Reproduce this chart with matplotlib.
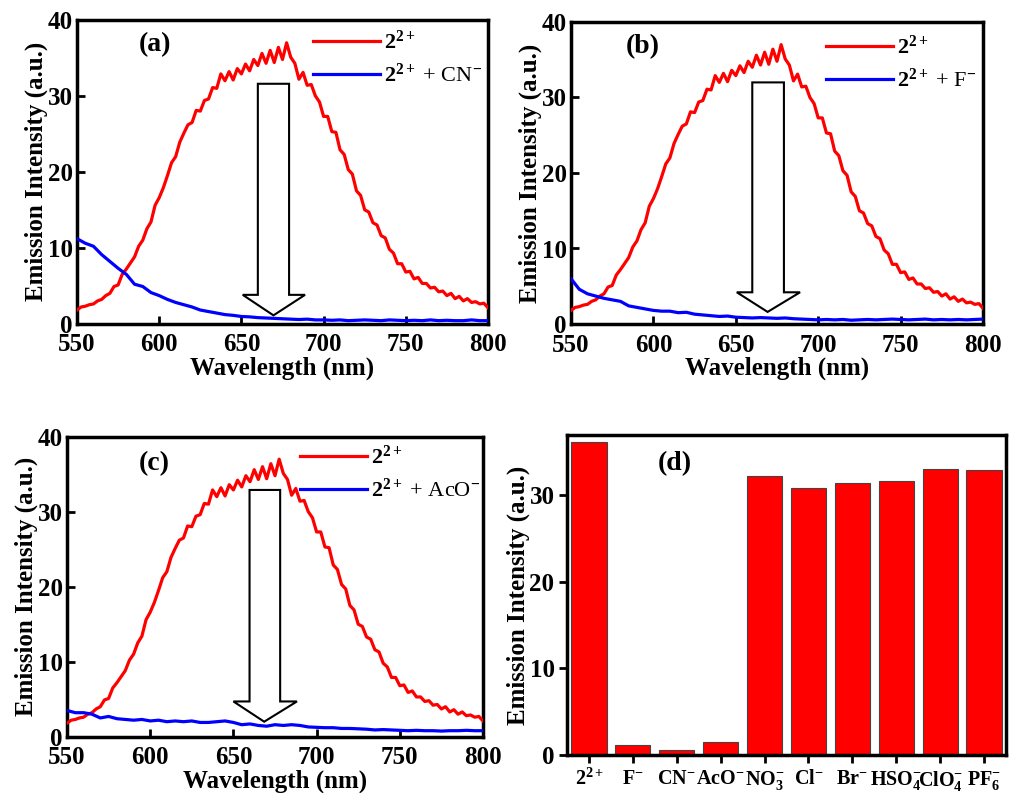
import numpy as np
import matplotlib
matplotlib.use("Agg")
import matplotlib.pyplot as plt
from matplotlib.patches import Polygon

plt.rcParams['font.family'] = ['Liberation Serif', 'DejaVu Serif']
plt.rcParams['font.weight'] = 'bold'
plt.rcParams['mathtext.fontset'] = 'custom'
plt.rcParams['mathtext.rm'] = 'Liberation Serif'
plt.rcParams['mathtext.bf'] = 'Liberation Serif:bold'
plt.rcParams['mathtext.it'] = 'Liberation Serif:italic'

# ---------------- data ----------------
wl_red = np.arange(550, 800.1, 2.5)
red_2 = [1.8, 2.2, 2.3, 2.5, 2.6, 3.0, 3.2, 3.7, 4.0, 4.9,
         5.1, 6.5, 7.2, 8.0, 8.8, 10.2, 11.0, 12.5, 13.4, 15.6,
         16.6, 17.9, 19.5, 21.2, 22.0, 23.9, 25.1, 26.2, 26.5, 28.1,
         28.0, 29.4, 29.6, 31.1, 31.0, 32.9, 32.0, 33.2, 32.1, 33.6,
         32.9, 34.2, 33.3, 34.8, 34.0, 35.6, 34.3, 36.0, 34.4, 36.4,
         34.8, 37.0, 35.1, 34.3, 32.2, 33.1, 31.4, 31.5, 30.0, 29.2,
         27.3, 27.3, 25.3, 25.2, 22.9, 22.3, 20.3, 19.7, 17.5, 16.9,
         15.0, 14.7, 13.3, 13.0, 11.6, 11.3, 9.8, 9.3, 7.9, 7.9,
         6.8, 6.9, 5.9, 6.1, 5.3, 5.3, 4.7, 4.8, 4.2, 4.3,
         3.7, 4.0, 3.3, 3.6, 3.0, 3.3, 2.8, 2.9, 2.6, 2.7, 2.1]

wl_blue = np.arange(550, 800.1, 5)
blue_cn = [11.2, 10.6, 10.2, 9.1, 8.2, 7.3, 6.5, 5.2, 4.9, 4.1,
           3.7, 3.2, 2.8, 2.5, 2.2, 1.8, 1.6, 1.4, 1.2, 1.1,
           0.95, 0.9, 0.8, 0.75, 0.7, 0.65, 0.6, 0.55, 0.6, 0.5,
           0.5, 0.45, 0.5, 0.4, 0.45, 0.5, 0.45, 0.4, 0.5, 0.45,
           0.4, 0.45, 0.4, 0.5, 0.4, 0.45, 0.4, 0.4, 0.5, 0.4, 0.4]
blue_f = [6.0, 4.6, 4.0, 3.7, 3.4, 3.2, 3.0, 2.4, 2.2, 2.0,
          1.8, 1.7, 1.7, 1.5, 1.55, 1.3, 1.2, 1.1, 1.0, 1.05,
          0.9, 0.85, 0.8, 0.85, 0.8, 0.75, 0.8, 0.7, 0.65, 0.6,
          0.55, 0.6, 0.55, 0.6, 0.5, 0.55, 0.6, 0.55, 0.6, 0.65,
          0.6, 0.55, 0.6, 0.65, 0.55, 0.6, 0.55, 0.6, 0.55, 0.6, 0.65]
blue_aco = [3.5, 3.2, 3.2, 3.0, 2.5, 2.7, 2.4, 2.3, 2.2, 2.3,
            2.1, 2.2, 2.0, 2.1, 2.0, 2.1, 1.9, 1.9, 2.0, 2.1,
            1.9, 1.6, 1.7, 1.5, 1.4, 1.6, 1.5, 1.6, 1.5, 1.3,
            1.25, 1.2, 1.2, 1.1, 1.1, 1.05, 1.0, 0.9, 0.95, 0.9,
            0.85, 0.8, 0.85, 0.8, 0.8, 0.75, 0.8, 0.8, 0.85, 0.8, 0.8]

anions = [r'$\mathbf{2^{2+}}$', r'$\mathbf{F^{-}}$', r'$\mathbf{CN^{-}}$',
          r'$\mathbf{AcO^{-}}$', r'$\mathbf{NO_3^{-}}$', r'$\mathbf{Cl^{-}}$',
          r'$\mathbf{Br^{-}}$', r'$\mathbf{HSO_4^{-}}$', r'$\mathbf{ClO_4^{-}}$',
          r'$\mathbf{PF_6^{-}}$']
bar_vals = [36.1, 1.1, 0.6, 1.55, 32.2, 30.8, 31.4, 31.6, 33.0, 32.9]

# arrow annotation geometry (nm / intensity)
arrow_tip_x = [669.5, 669.3, 668.5]
arrow_shaft = [(660.0, 679.0), (660.0, 679.2), (659.7, 678.1)]
arrow_head = [(650.8, 688.7), (650.6, 689.0), (650.0, 688.2)]
arrow_top = [31.6, 32.0, 32.9]
arrow_base = [3.8, 4.2, 4.7]
arrow_tip_y = [1.1, 1.6, 2.0]

RED = '#ff0000'
BLUE = '#0000ff'

W, H = 1013, 793
fig = plt.figure(figsize=(W / 100, H / 100), dpi=100)

def frac(l, r, t, b):
    return [l / W, (H - b) / H, (r - l) / W, (b - t) / H]

pos = {
    'a': frac(77, 488, 20, 323.7),
    'b': frac(571, 983, 22, 324),
    'c': frac(67, 483, 436.7, 736.7),
    'd': frac(567, 1006, 435, 755),
}

def style(ax, direction='in', size=18):
    for s in ax.spines.values():
        s.set_linewidth(2.5)
    ax.tick_params(direction=direction, width=2, length=6, labelsize=size)
    ax.tick_params(axis='x', pad=7)
    ax.tick_params(axis='y', pad=3)
    for lab in ax.get_xticklabels() + ax.get_yticklabels():
        lab.set_fontweight('bold')

spec = [('a', blue_cn, r'CN$^{\mathbf{-}}$', 0.574, 0.965),
        ('b', blue_f, r'F$^{\mathbf{-}}$', 0.619, 0.955),
        ('c', blue_aco, r'AcO$^{\mathbf{-}}$', 0.56, 0.97)]

for i, (key, blue, anion, lx, ly) in enumerate(spec):
    ax = fig.add_axes(pos[key])
    l1, = ax.plot(wl_red, red_2, color=RED, lw=2.3, zorder=3)
    l2, = ax.plot(wl_blue, blue, color=BLUE, lw=2.3, zorder=3)
    sx0, sx1 = arrow_shaft[i]
    hx0, hx1 = arrow_head[i]
    pts = [(sx0, arrow_top[i]), (sx1, arrow_top[i]), (sx1, arrow_base[i]),
           (hx1, arrow_base[i]), (arrow_tip_x[i], arrow_tip_y[i]),
           (hx0, arrow_base[i]), (sx0, arrow_base[i])]
    ax.add_patch(Polygon(pts, closed=True, facecolor='white',
                         edgecolor='black', lw=1.5, zorder=2))
    ax.set_xlim(550, 800)
    ax.set_ylim(0, 40)
    ax.set_xticks([550, 600, 650, 700, 750, 800])
    ax.set_yticks([0, 10, 20, 30, 40])
    ax.set_xlabel('Wavelength (nm)', fontsize=18, fontweight='bold', labelpad=0)
    ax.set_ylabel('Emission Intensity (a.u.)', fontsize=18, fontweight='bold', labelpad=0)
    style(ax, 'in')
    leg = ax.legend([l1, l2], [r'$\mathbf{2}^{\mathbf{2+}}$',
                               r'$\mathbf{2}^{\mathbf{2+}}$ + ' + anion],
                    loc='upper left', bbox_to_anchor=(lx, ly), frameon=False,
                    borderpad=0, borderaxespad=0, handlelength=3.0,
                    handletextpad=0.2, labelspacing=0.45,
                    prop={'size': 16, 'weight': 'normal'})
    ax.text({'a': 0.19, 'b': 0.175, 'c': 0.21}[key],
            {'a': 0.918, 'b': 0.92, 'c': 0.91}[key],
            '(%s)' % key, transform=ax.transAxes, ha='center', va='center',
            fontsize=20, fontweight='bold')

axd = fig.add_axes(pos['d'])
x = np.arange(len(anions))
axd.bar(x, bar_vals, width=0.8, color=RED, edgecolor='#444444', lw=0.8)
axd.set_xlim(-0.5, 9.5)
axd.set_ylim(0, 36.9)
axd.set_yticks([0, 10, 20, 30])
axd.set_xticks(x)
axd.set_xticklabels(anions)
axd.set_ylabel('Emission Intensity (a.u.)', fontsize=18, fontweight='bold', labelpad=0)
style(axd, 'out')
axd.tick_params(axis='x', labelsize=14.5, pad=4)
axd.text(0.246, 0.91, '(d)', transform=axd.transAxes, ha='center', va='center',
         fontsize=20, fontweight='bold')

fig.savefig('out.png', dpi=100)
